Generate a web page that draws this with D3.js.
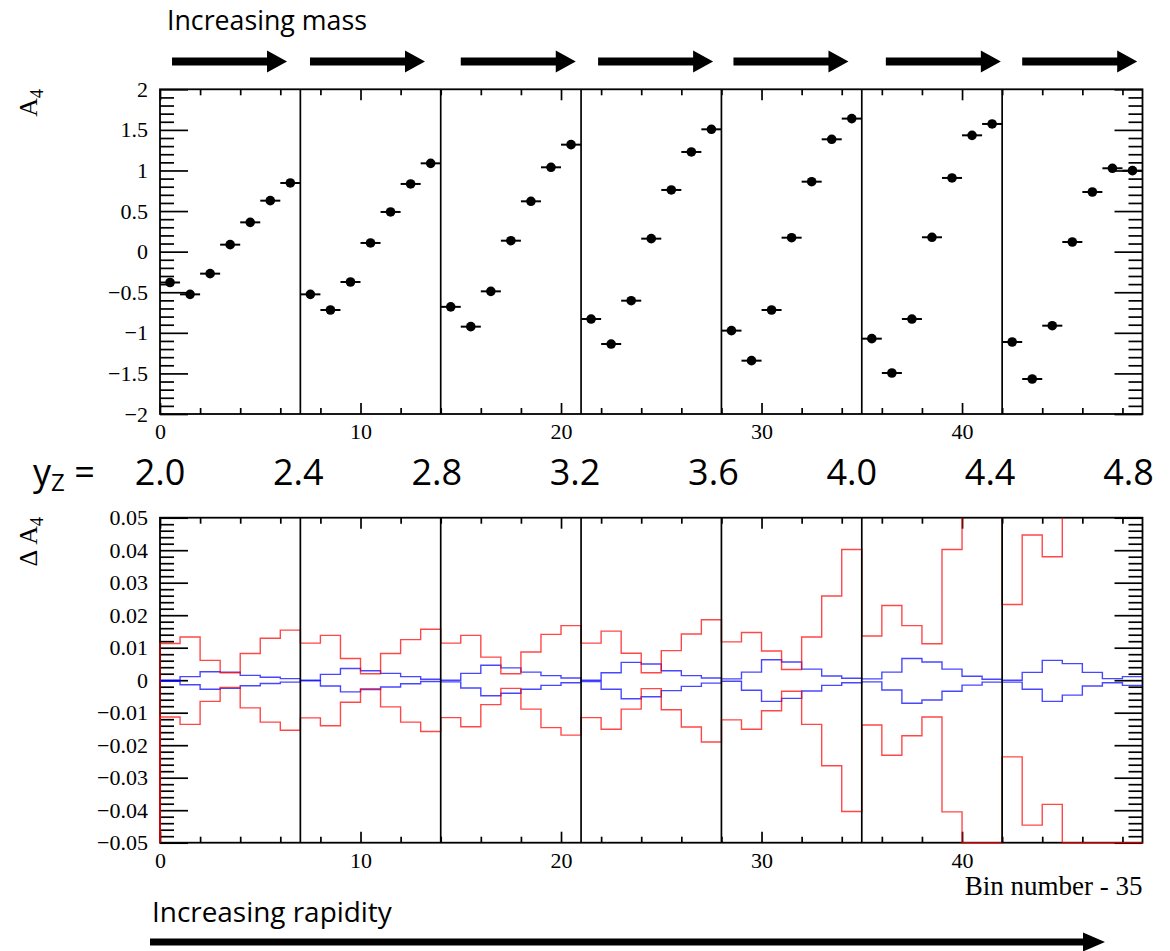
<!DOCTYPE html>
<html>
<head>
<meta charset="utf-8">
<script src="https://cdn.jsdelivr.net/npm/d3@7"></script>
<style>
  body { margin: 0; background: #fff; }
  svg { display: block; }
</style>
</head>
<body>
<script>
// ---------------- DATA ----------------
const nBins = 49;
const groupEdges = [7, 14, 21, 28, 35, 42];
const yzLabels = ["2.0", "2.4", "2.8", "3.2", "3.6", "4.0", "4.4", "4.8"];
const xMajorTicks = [0, 10, 20, 30, 40];

// A4 per bin (top panel)
const a4Values = [
  -0.38, -0.526, -0.271, 0.086, 0.361, 0.628, 0.846,
  -0.526, -0.719, -0.374, 0.107, 0.489, 0.834, 1.088,
  -0.68, -0.924, -0.489, 0.135, 0.62, 1.039, 1.318,
  -0.83, -1.138, -0.604, 0.16, 0.76, 1.228, 1.507,
  -0.973, -1.343, -0.719, 0.172, 0.862, 1.384, 1.639,
  -1.072, -1.495, -0.83, 0.177, 0.908, 1.433, 1.573,
  -1.113, -1.569, -0.912, 0.119, 0.735, 1.027, 0.998
];

// Delta A4 bands (bottom panel)
const redUpper = [
  0.0113, 0.0133, 0.0061, 0.0023, 0.0082, 0.0129, 0.0154,
  0.0114, 0.0138, 0.0067, 0.0020, 0.0082, 0.0125, 0.0157,
  0.0114, 0.0138, 0.0071, 0.0020, 0.0087, 0.0141, 0.0168,
  0.0114, 0.0151, 0.0083, 0.0023, 0.0091, 0.0142, 0.0186,
  0.0118, 0.0147, 0.0090, 0.0033, 0.0133, 0.0259, 0.0402,
  0.0136, 0.0230, 0.0168, 0.0112, 0.0402, 0.062, 0.071,
  0.0233, 0.0447, 0.0380, 0.058, 0.066, 0.075, 0.084
];
const redLower = [
  -0.0113, -0.0136, -0.0065, -0.0022, -0.0085, -0.0129, -0.0154,
  -0.0116, -0.0140, -0.0068, -0.0026, -0.0082, -0.0129, -0.0158,
  -0.0115, -0.0143, -0.0075, -0.0025, -0.0089, -0.0146, -0.0169,
  -0.0115, -0.0151, -0.0089, -0.0026, -0.0091, -0.0144, -0.0190,
  -0.0122, -0.0151, -0.0094, -0.0034, -0.0136, -0.0263, -0.0404,
  -0.0138, -0.0231, -0.0171, -0.0113, -0.0405, -0.062, -0.071,
  -0.0236, -0.0446, -0.0382, -0.058, -0.066, -0.075, -0.084
];
const blueUpper = [
  0.0000, 0.0011, 0.0026, 0.0025, 0.0015, 0.0009, 0.0005,
  0.0000, 0.0018, 0.0036, 0.0029, 0.0021, 0.0011, 0.0003,
  0.0000, 0.0021, 0.0046, 0.0038, 0.0025, 0.0014, 0.0007,
  0.0000, 0.0023, 0.0055, 0.0050, 0.0029, 0.0014, 0.0007,
  0.0004, 0.0025, 0.0063, 0.0056, 0.0034, 0.0013, 0.0006,
  0.0004, 0.0025, 0.0067, 0.0056, 0.0034, 0.0012, 0.0003,
  0.0000, 0.0024, 0.0061, 0.0051, 0.0024, 0.0005, 0.0011
];
const blueLower = [
  -0.0003, -0.0014, -0.0028, -0.0025, -0.0017, -0.0010, -0.0006,
  -0.0002, -0.0018, -0.0036, -0.0029, -0.0021, -0.0011, -0.0004,
  -0.0005, -0.0024, -0.0048, -0.0040, -0.0028, -0.0016, -0.0008,
  -0.0004, -0.0028, -0.0057, -0.0051, -0.0032, -0.0019, -0.0009,
  -0.0003, -0.0031, -0.0065, -0.0056, -0.0033, -0.0016, -0.0008,
  -0.0005, -0.0030, -0.0071, -0.0061, -0.0034, -0.0015, -0.0006,
  -0.0006, -0.0028, -0.0065, -0.0046, -0.0018, -0.0008, -0.0016
];

// ---------------- CHART ----------------
const W = 1170, H = 951;
const svg = d3.select("body").append("svg").attr("width", W).attr("height", H);

const serif = "'Liberation Serif', 'Times New Roman', serif";
const sans = "'Open Sans', 'Lato', sans-serif";

const x = d3.scaleLinear().domain([0, nBins]).range([160, 1142.5]);
const yTop = d3.scaleLinear().domain([-2, 2]).range([414, 89.3]);
const yBot = d3.scaleLinear().domain([-0.05, 0.05]).range([842.7, 517.7]);

const minus = d => (d < 0 ? "\u2212" : "") + Math.abs(d);

function drawFrame(y, majY, minY, labelPad) {
  const g = svg.append("g");
  const [yb, yt] = y.range();
  const [xl, xr] = x.range();
  const minorX = d3.range(0, nBins, 2).filter(v => v % 10 !== 0);

  const styleAxis = sel => {
    sel.select(".domain").remove();
    sel.attr("font-family", serif).attr("font-size", 22).attr("fill", "#000");
    sel.selectAll("line").attr("stroke", "#000").attr("stroke-width", 1.7);
    sel.selectAll("text").attr("fill", "#000");
  };

  g.append("g").attr("transform", `translate(${xl},0)`)
    .call(d3.axisLeft(y).tickValues(majY).tickSize(-28).tickSizeOuter(0).tickPadding(12).tickFormat(minus))
    .call(styleAxis);
  g.append("g").attr("transform", `translate(${xl},0)`)
    .call(d3.axisLeft(y).tickValues(minY).tickSize(-14).tickSizeOuter(0).tickFormat(""))
    .call(styleAxis);
  g.append("g").attr("transform", `translate(${xr},0)`)
    .call(d3.axisRight(y).tickValues(majY).tickSize(-28).tickSizeOuter(0).tickFormat(""))
    .call(styleAxis);
  g.append("g").attr("transform", `translate(${xr},0)`)
    .call(d3.axisRight(y).tickValues(minY).tickSize(-14).tickSizeOuter(0).tickFormat(""))
    .call(styleAxis);

  g.append("g").attr("transform", `translate(0,${yb})`)
    .call(d3.axisBottom(x).tickValues(xMajorTicks).tickSize(-11).tickSizeOuter(0).tickPadding(labelPad).tickFormat(d3.format("d")))
    .call(styleAxis);
  g.append("g").attr("transform", `translate(0,${yb})`)
    .call(d3.axisBottom(x).tickValues(minorX).tickSize(-6).tickSizeOuter(0).tickFormat(""))
    .call(styleAxis);
  g.append("g").attr("transform", `translate(0,${yt})`)
    .call(d3.axisTop(x).tickValues(xMajorTicks).tickSize(-11).tickSizeOuter(0).tickFormat(""))
    .call(styleAxis);
  g.append("g").attr("transform", `translate(0,${yt})`)
    .call(d3.axisTop(x).tickValues(minorX).tickSize(-6).tickSizeOuter(0).tickFormat(""))
    .call(styleAxis);

  g.append("rect")
    .attr("x", xl).attr("y", yt).attr("width", xr - xl).attr("height", yb - yt)
    .attr("fill", "none").attr("stroke", "#000").attr("stroke-width", 1.8);
  return g;
}

function drawDividers(y) {
  const [yb, yt] = y.range();
  svg.append("g").selectAll("line").data(groupEdges).join("line")
    .attr("x1", d => x(d)).attr("x2", d => x(d))
    .attr("y1", yt).attr("y2", yb)
    .attr("stroke", "#000").attr("stroke-width", 1.7);
}

// ---- top panel ----
drawFrame(yTop, d3.range(-4, 5).map(i => i / 2),
  d3.range(-20, 21).filter(i => i % 5 !== 0).map(i => i / 10), 9);
drawDividers(yTop);

const pts = svg.append("g");
pts.selectAll("line").data(a4Values).join("line")
  .attr("x1", (d, i) => x(i)).attr("x2", (d, i) => x(i + 1))
  .attr("y1", d => yTop(d)).attr("y2", d => yTop(d))
  .attr("stroke", "#000").attr("stroke-width", 2);
pts.selectAll("circle").data(a4Values).join("circle")
  .attr("cx", (d, i) => x(i + 0.5)).attr("cy", d => yTop(d))
  .attr("r", 4.8).attr("fill", "#000");

// ---- bottom panel ----
drawFrame(yBot, d3.range(-5, 6).map(i => i / 100),
  d3.range(-25, 26).filter(i => i % 5 !== 0).map(i => i / 500), 9.5);

const [bb, bt] = yBot.range();
svg.append("clipPath").attr("id", "clipBot")
  .append("rect").attr("x", x.range()[0] - 2).attr("y", bt)
  .attr("width", x.range()[1] - x.range()[0] + 4).attr("height", bb - bt + 2);

const lo = yBot.domain()[0];
function stepPoints(vals, fromBottom) {
  const p = fromBottom ? [[0, lo]] : [];
  vals.forEach((v, i) => { p.push([i, v]); p.push([i + 1, v]); });
  return p;
}
const stepLine = d3.line()
  .x(d => x(d[0]))
  .y(d => yBot(Math.max(d[1], lo)));

const hist = svg.append("g").attr("clip-path", "url(#clipBot)");
[[blueUpper, "#0000ff", false], [blueLower, "#0000ff", false],
 [redUpper, "#ff0000", true], [redLower, "#ff0000", true]]
  .forEach(([vals, col, fb]) => {
    hist.append("path")
      .attr("d", stepLine(stepPoints(vals, fb)))
      .attr("fill", "none").attr("stroke", col)
      .attr("stroke-width", 1.4).attr("stroke-opacity", 0.72);
  });
drawDividers(yBot);

// ---- axis titles ----
const a4t = svg.append("text")
  .attr("transform", `translate(37,89) rotate(-90)`)
  .attr("text-anchor", "end").attr("font-family", serif).attr("font-size", 26);
a4t.append("tspan").text("A");
a4t.append("tspan").attr("font-size", 18).attr("dy", 6).text("4");

const da4t = svg.append("text")
  .attr("transform", `translate(37,517) rotate(-90)`)
  .attr("text-anchor", "end").attr("font-family", serif).attr("font-size", 26);
da4t.append("tspan").text("\u0394 A");
da4t.append("tspan").attr("font-size", 18).attr("dy", 6).text("4");

function fitText(sel, target) {
  const w = sel.node().getComputedTextLength();
  const fs = parseFloat(sel.attr("font-size"));
  sel.attr("font-size", fs * target / w);
}

const binT = svg.append("text")
  .attr("x", x.range()[1]).attr("y", 895)
  .attr("text-anchor", "end").attr("font-family", serif).attr("font-size", 26)
  .text("Bin number - 35");
fitText(binT, 178);

// ---- annotations ----
const massT = svg.append("text").attr("x", 167).attr("y", 30)
  .attr("font-family", sans).attr("font-size", 26).text("Increasing mass");
fitText(massT, 200);

const rapT = svg.append("text").attr("x", 152).attr("y", 922)
  .attr("font-family", sans).attr("font-size", 26).text("Increasing rapidity");
fitText(rapT, 240);

function arrow(x0, x1, yc, shaft, headL, headH) {
  const p = d3.path();
  p.moveTo(x0, yc - shaft / 2);
  p.lineTo(x1 - headL, yc - shaft / 2);
  p.lineTo(x1 - headL, yc - headH / 2);
  p.lineTo(x1, yc);
  p.lineTo(x1 - headL, yc + headH / 2);
  p.lineTo(x1 - headL, yc + shaft / 2);
  p.lineTo(x0, yc + shaft / 2);
  p.closePath();
  return p.toString();
}
const arrowStartBins = [0.6, 7.48, 15.0, 21.85, 28.6, 36.2, 43.0];
const arrowLen = 115;
svg.append("g").selectAll("path").data(arrowStartBins).join("path")
  .attr("d", d => arrow(x(d), x(d) + arrowLen, 61.5, 8, 20, 22))
  .attr("fill", "#000");

svg.append("path").attr("d", arrow(150, 1105, 942, 7, 22, 19)).attr("fill", "#000");

// y_Z labels
const yzT = svg.append("text").attr("x", 33).attr("y", 485)
  .attr("font-family", sans).attr("font-size", 36);
yzT.append("tspan").text("y");
yzT.append("tspan").attr("font-size", 24).attr("dy", 6).text("Z");
yzT.append("tspan").attr("dy", -6).text(" =");

svg.append("g").selectAll("text").data(yzLabels).join("text")
  .attr("x", (d, i) => x(7 * i) - 2 * i)
  .attr("y", 485)
  .attr("text-anchor", "middle")
  .attr("font-family", sans).attr("font-size", 36)
  .text(d => d);
</script>
</body>
</html>
